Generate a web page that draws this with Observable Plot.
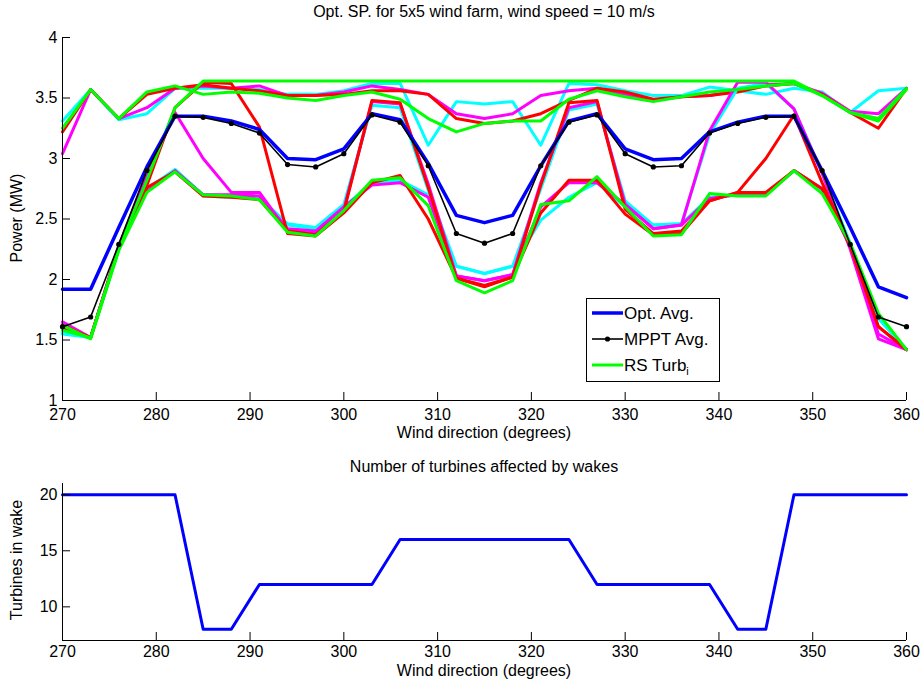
<!DOCTYPE html>
<html><head><meta charset="utf-8">
<script src="https://cdn.jsdelivr.net/npm/d3@7"></script>
<script src="https://cdn.jsdelivr.net/npm/@observablehq/plot@0.6"></script>
<style>
body{margin:0;background:#fff;font-family:"Liberation Sans",Arial,sans-serif;}
#wrap{position:relative;width:922px;height:680px;overflow:hidden;background:#fff}
#top{position:absolute;left:0;top:0}
#bot{position:absolute;left:0;top:450px}
.lbl{position:absolute;white-space:nowrap;color:#000;line-height:1}
.ctr{transform:translateX(-50%)}
.rot{transform:translate(-50%,-50%) rotate(-90deg)}
#legend{position:absolute;left:586px;top:298px;width:134px;height:84px;border:1px solid #000;background:#fff;box-sizing:border-box}
.lg{position:absolute;left:0;height:24px;width:132px}
.lg svg{position:absolute;left:5px;top:0}
.lg span{position:absolute;left:37px;top:3px;font-size:17px;line-height:1}
</style></head><body><div id="wrap">
<div id="top"></div><div id="bot"></div>
<div class="lbl ctr" style="left:484px;top:4px;font-size:16px">Opt. SP. for 5x5 wind farm, wind speed = 10 m/s</div>
<div class="lbl rot" style="left:17px;top:218px;font-size:16px">Power (MW)</div>
<div class="lbl ctr" style="left:484px;top:425px;font-size:16px">Wind direction (degrees)</div>
<div class="lbl ctr" style="left:484px;top:459px;font-size:16px">Number of turbines affected by wakes</div>
<div class="lbl rot" style="left:17px;top:560px;font-size:16px">Turbines in wake</div>
<div class="lbl ctr" style="left:484px;top:663px;font-size:16px">Wind direction (degrees)</div>
<div id="legend"></div>
</div>
<script>
// ---- data ----
const directions = [270,273,276,279,282,285,288,291,294,297,300,303,306,309,312,315,318,321,324,327,330,333,336,339,342,345,348,351,354,357,360];
const xTicks = [270,280,290,300,310,320,330,340,350,360];
const powerTicks = [1,1.5,2,2.5,3,3.5,4];
const wakeTicks = [10,15,20];

const optAvg  = [1.92,1.92,2.43,2.93,3.35,3.35,3.31,3.24,3.00,2.99,3.08,3.37,3.32,2.96,2.53,2.47,2.53,2.94,3.31,3.37,3.08,2.99,3.00,3.22,3.30,3.35,3.35,2.90,2.43,1.94,1.85];
const mpptAvg = [1.61,1.69,2.29,2.90,3.35,3.34,3.29,3.21,2.95,2.93,3.04,3.36,3.30,2.94,2.38,2.30,2.38,2.94,3.30,3.36,3.04,2.93,2.94,3.21,3.29,3.34,3.35,2.90,2.29,1.69,1.61];

const turbCyanTop     = [3.31,3.57,3.32,3.37,3.58,3.58,3.58,3.57,3.53,3.53,3.56,3.62,3.62,3.11,3.47,3.45,3.47,3.11,3.62,3.61,3.56,3.52,3.52,3.59,3.56,3.53,3.58,3.55,3.38,3.56,3.58];
const turbMagentaTop  = [3.04,3.57,3.33,3.42,3.58,3.60,3.58,3.60,3.52,3.52,3.55,3.60,3.57,3.53,3.37,3.33,3.37,3.52,3.56,3.58,3.53,3.48,3.51,3.52,3.56,3.61,3.62,3.54,3.39,3.37,3.58];
const turbRedTop      = [3.22,3.57,3.33,3.53,3.58,3.61,3.58,3.56,3.52,3.52,3.53,3.56,3.56,3.53,3.33,3.29,3.31,3.37,3.48,3.58,3.55,3.49,3.51,3.52,3.55,3.60,3.62,3.53,3.38,3.25,3.58];
const turbCyanLow     = [1.55,1.52,2.25,2.74,2.90,2.69,2.68,2.67,2.45,2.42,2.60,2.80,2.82,2.70,2.11,2.05,2.11,2.49,2.68,2.80,2.60,2.45,2.46,2.68,2.70,2.70,2.90,2.74,2.30,1.68,1.42];
const turbCyanPeak    = [1.56,1.52,2.25,2.75,2.91,2.70,2.69,2.68,2.46,2.43,2.62,3.44,3.42,2.74,2.11,2.05,2.11,2.75,3.40,3.45,2.65,2.45,2.46,3.20,3.58,3.62,3.41,2.88,2.30,1.68,1.42];
const turbMagentaLow  = [1.63,1.52,2.26,2.73,2.90,2.70,2.70,2.69,2.42,2.40,2.60,2.78,2.80,2.68,2.03,1.99,2.04,2.60,2.80,2.80,2.62,2.42,2.45,2.67,2.70,2.70,2.90,2.75,2.27,1.55,1.42];
const turbMagentaPeak = [1.65,1.52,2.28,2.85,3.38,3.00,2.72,2.72,2.40,2.38,2.58,3.47,3.45,2.79,2.03,1.99,2.04,2.80,3.42,3.47,2.62,2.42,2.45,3.23,3.63,3.63,3.41,2.88,2.25,1.51,1.42];
const turbRedPeak     = [1.62,1.52,2.26,2.76,2.89,2.69,2.68,2.66,2.40,2.37,2.56,3.48,3.46,2.76,2.01,1.95,2.02,2.78,3.46,3.48,2.58,2.38,2.40,2.65,2.72,2.72,2.90,2.75,2.28,1.61,1.42];
const turbRedDrop     = [1.60,1.52,2.26,2.78,3.42,3.63,3.62,3.26,2.38,2.36,2.55,2.80,2.86,2.50,2.01,1.94,2.02,2.55,2.82,2.82,2.54,2.37,2.38,2.65,2.72,3.00,3.36,2.80,2.28,1.61,1.42];
const turbGreenLow    = [1.62,1.51,2.24,2.72,2.89,2.70,2.69,2.66,2.39,2.36,2.57,2.82,2.84,2.61,1.99,1.89,1.99,2.62,2.65,2.85,2.60,2.36,2.37,2.71,2.69,2.69,2.90,2.71,2.30,1.72,1.42];
const turbGreenTop    = [3.25,3.57,3.33,3.55,3.60,3.53,3.55,3.54,3.50,3.48,3.52,3.55,3.49,3.33,3.22,3.29,3.31,3.31,3.49,3.56,3.51,3.47,3.51,3.55,3.57,3.60,3.62,3.52,3.38,3.33,3.58];
const turbGreenFlat   = [1.58,1.52,2.26,2.82,3.42,3.64,3.64,3.64,3.64,3.64,3.64,3.64,3.64,3.64,3.64,3.64,3.64,3.64,3.64,3.64,3.64,3.64,3.64,3.64,3.64,3.64,3.64,3.52,3.38,3.31,3.57];

const wakeCounts = [20,20,20,20,20,8,8,12,12,12,12,12,16,16,16,16,16,16,16,12,12,12,12,12,8,8,20,20,20,20,20];

// ---- build ----
const RED="#ff0000", GREEN="#00ff00", MAG="#ff00ff", CYAN="#00ffff", BLUE="#0000ff";
const turbines = [
  [turbCyanTop,CYAN],[turbMagentaTop,MAG],[turbRedTop,RED],
  [turbCyanLow,CYAN],[turbCyanPeak,CYAN],
  [turbMagentaLow,MAG],[turbMagentaPeak,MAG],
  [turbRedPeak,RED],[turbRedDrop,RED],
  [turbGreenLow,GREEN],[turbGreenTop,GREEN],[turbGreenFlat,GREEN]
];
const rows = vals => directions.map((d,i)=>({dir:d, v:vals[i]}));
const FONT = "'Liberation Sans', Arial, sans-serif";

const topPlot = Plot.plot({
  width: 922, height: 450,
  marginLeft: 62, marginRight: 16, marginTop: 37, marginBottom: 50,
  style: {fontFamily: FONT, fontSize: "16px", color: "#000", background: "transparent", overflow: "visible"},
  x: {domain: [270, 360]},
  y: {domain: [1, 4]},
  marks: [
    ...turbines.map(([vals,c]) => Plot.line(rows(vals), {x:"dir", y:"v", stroke:c, strokeWidth:3, strokeLinejoin:"round"})),
    Plot.line(rows(optAvg), {x:"dir", y:"v", stroke:BLUE, strokeWidth:3.5}),
    Plot.line(rows(mpptAvg), {x:"dir", y:"v", stroke:"#000", strokeWidth:1.6}),
    Plot.dot(rows(mpptAvg), {x:"dir", y:"v", fill:"#000", r:2.6}),
    Plot.ruleX([270], {stroke:"#000"}),
    Plot.ruleY([1], {stroke:"#000"}),
    Plot.axisX({ticks: xTicks, tickSize: -8, tickPadding: 16, label: null, tickFormat: d => String(d), fontSize: 16}),
    Plot.axisY({ticks: powerTicks, tickSize: -8, tickPadding: 13, label: null, tickFormat: d => String(d), fontSize: 16})
  ]
});
document.getElementById("top").appendChild(topPlot);

const botPlot = Plot.plot({
  width: 922, height: 230,
  marginLeft: 62, marginRight: 16, marginTop: 33, marginBottom: 40,
  style: {fontFamily: FONT, fontSize: "16px", color: "#000", background: "transparent", overflow: "visible"},
  x: {domain: [270, 360]},
  y: {domain: [7, 21]},
  marks: [
    Plot.line(rows(wakeCounts), {x:"dir", y:"v", stroke:BLUE, strokeWidth:3}),
    Plot.ruleX([270], {stroke:"#000"}),
    Plot.ruleY([7], {stroke:"#000"}),
    Plot.axisX({ticks: xTicks, tickSize: -8, tickPadding: 13, label: null, tickFormat: d => String(d), fontSize: 16}),
    Plot.axisY({ticks: wakeTicks, tickSize: -8, tickPadding: 13, label: null, tickFormat: d => String(d), fontSize: 16})
  ]
});
document.getElementById("bot").appendChild(botPlot);

// ---- legend ----
const legendItems = [
  {label: "Opt. Avg.", color: BLUE, w: 3.5, dot: false},
  {label: "MPPT Avg.", color: "#000", w: 1.6, dot: true},
  {label: "RS Turb", sub: "i", color: GREEN, w: 3, dot: false}
];
const lg = document.getElementById("legend");
legendItems.forEach((it, k) => {
  const row = document.createElement("div");
  row.className = "lg";
  row.style.top = (3 + k * 26) + "px";
  row.innerHTML = `<svg width="31" height="24"><line x1="0" x2="31" y1="11" y2="11" stroke="${it.color}" stroke-width="${it.w}"/>${it.dot ? `<circle cx="15.5" cy="11" r="2.6" fill="#000"/>` : ""}</svg><span>${it.label}${it.sub ? `<sub style="font-size:11px">${it.sub}</sub>` : ""}</span>`;
  lg.appendChild(row);
});
</script>
</body></html>
